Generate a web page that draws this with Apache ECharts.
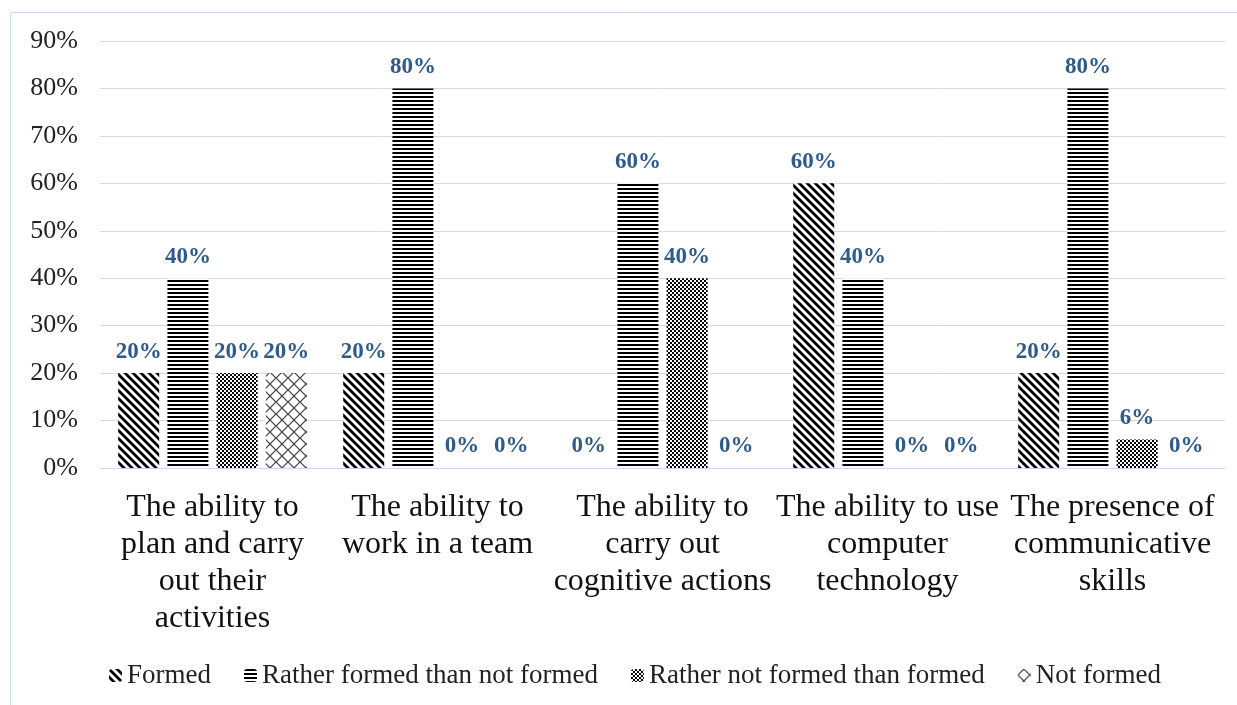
<!DOCTYPE html>
<html>
<head>
<meta charset="utf-8">
<script src="https://cdn.jsdelivr.net/npm/echarts@6/dist/echarts.min.js"></script>
<style>
  html, body { margin: 0; padding: 0; background: #fff; }
  #main { width: 1237px; height: 705px; }
</style>
</head>
<body>
<div id="main"></div>
<script>
// categories and values
var categories = [
    'The ability to\nplan and carry\nout their\nactivities',
    'The ability to\nwork in a team',
    'The ability to\ncarry out\ncognitive actions',
    'The ability to use\ncomputer\ntechnology',
    'The presence of\ncommunicative\nskills'
];
var seriesNames = ['Formed', 'Rather formed than not formed', 'Rather not formed than formed', 'Not formed'];
var formed = [20, 20, 0, 60, 20];
var ratherFormed = [40, 80, 60, 40, 80];
var ratherNotFormed = [20, 0, 40, 0, 6];
var notFormed = [20, 0, 0, 0, 0];
var yTicks = [0, 10, 20, 30, 40, 50, 60, 70, 80, 90];

// hatch patterns drawn on small canvases
function makePattern(kind) {
    var c = document.createElement('canvas');
    var ctx = c.getContext('2d');
    if (kind === 'diag') {
        c.width = 8; c.height = 8;
        ctx.fillStyle = '#fff'; ctx.fillRect(0, 0, 8, 8);
        ctx.strokeStyle = '#000'; ctx.lineWidth = 2.8;
        ctx.beginPath();
        ctx.moveTo(-2, -2); ctx.lineTo(10, 10);
        ctx.moveTo(-2, 6); ctx.lineTo(2, 10);
        ctx.moveTo(6, -2); ctx.lineTo(10, 2);
        ctx.stroke();
    } else if (kind === 'horiz') {
        c.width = 4; c.height = 4;
        ctx.fillStyle = '#fff'; ctx.fillRect(0, 0, 4, 4);
        ctx.fillStyle = '#000'; ctx.fillRect(0, 0, 4, 2);
    } else if (kind === 'check') {
        c.width = 4; c.height = 4;
        ctx.fillStyle = '#fff'; ctx.fillRect(0, 0, 4, 4);
        ctx.fillStyle = '#000';
        ctx.fillRect(0, 0, 2, 2); ctx.fillRect(2, 2, 2, 2);
    } else {
        c.width = 12; c.height = 12;
        ctx.fillStyle = '#fff'; ctx.fillRect(0, 0, 12, 12);
        ctx.strokeStyle = '#444'; ctx.lineWidth = 1.2;
        ctx.beginPath();
        ctx.moveTo(0, 6); ctx.lineTo(6, 0); ctx.lineTo(12, 6); ctx.lineTo(6, 12); ctx.closePath();
        ctx.stroke();
    }
    return { image: c, repeat: 'repeat' };
}

var patterns = [makePattern('diag'), makePattern('horiz'), makePattern('check'), makePattern('diamond')];
var values = [formed, ratherFormed, ratherNotFormed, notFormed];

var myChart = echarts.init(document.getElementById('main'));

var series = seriesNames.map(function (name, i) {
    return {
        name: name,
        type: 'bar',
        barWidth: 41,
        barGap: '20%',
        data: values[i],
        itemStyle: { color: patterns[i] },
        label: {
            show: true,
            position: 'top',
            distance: 10,
            formatter: '{c}%',
            color: '#2e5a8c',
            fontFamily: 'Liberation Serif',
            fontWeight: 'bold',
            fontSize: 23
        }
    };
});

var option = {
    backgroundColor: '#fff',
    animation: false,
    graphic: [{
        type: 'rect',
        shape: { x: 10.5, y: 12.5, width: 1240, height: 700 },
        style: { fill: 'none', stroke: '#c9dcf2', lineWidth: 1 },
        silent: true
    }],
    grid: { left: 100, right: 12, top: 41, bottom: 237 },
    legend: {
        left: 104,
        top: 657,
        itemWidth: 13,
        itemHeight: 13,
        itemGap: 33,
        textStyle: { fontFamily: 'Liberation Serif', fontSize: 27, color: '#222' },
        data: seriesNames
    },
    xAxis: {
        type: 'category',
        data: categories,
        axisTick: { show: false },
        axisLine: { lineStyle: { color: '#c6d9f0', width: 1 } },
        axisLabel: {
            interval: 0,
            margin: 21,
            fontFamily: 'Liberation Serif',
            fontSize: 32,
            lineHeight: 37,
            color: '#111'
        }
    },
    yAxis: {
        type: 'value',
        min: yTicks[0],
        max: yTicks[yTicks.length - 1],
        interval: 10,
        axisLine: { show: false },
        axisTick: { show: false },
        splitLine: { lineStyle: { color: '#d9d9d9', width: 1 } },
        axisLabel: {
            formatter: '{value}%',
            margin: 22,
            fontFamily: 'Liberation Serif',
            fontSize: 26,
            color: '#222'
        }
    },
    series: series
};

myChart.setOption(option);
</script>
</body>
</html>
